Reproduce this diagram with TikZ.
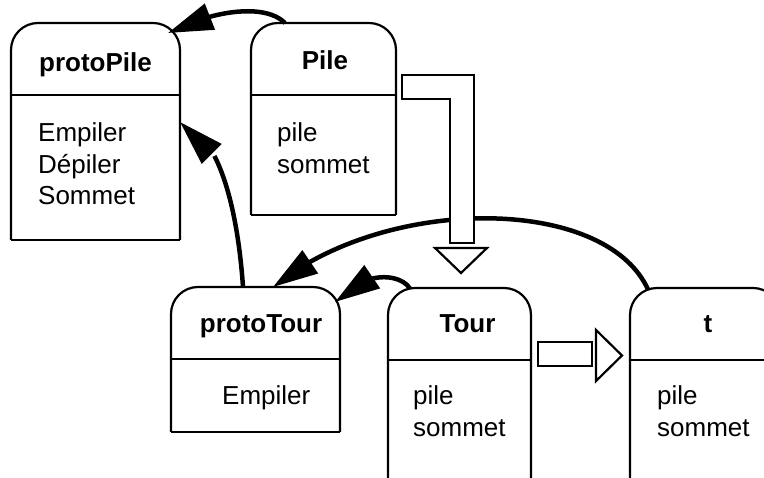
\documentclass[tikz,border=0pt]{standalone}
\usepackage{fontspec}
\setmainfont{Liberation Sans}
\usetikzlibrary{arrows.meta,bending}

\newcommand\boxlines[1]{\begin{tabular}[t]{@{}l@{}}#1\end{tabular}}

\tikzset{
  boxarea/.style={inner sep=0pt, outer sep=0pt, anchor=north west, draw=none},
  boxline/.style={line width=2.2pt, line join=miter},
  title/.style={font=\fontsize{26}{31.5}\selectfont\bfseries, anchor=base, inner sep=0pt},
  body/.style={font=\fontsize{26}{31.5}\selectfont, anchor=base west, inner sep=0pt},
  link/.style={line width=4.5pt, -{Triangle[length=45pt,width=27pt,flex]}},
  hollow/.style={line width=2.2pt, fill=white, line join=miter},
}

\begin{document}
\begin{tikzpicture}[x=1pt,y=1pt]
\useasboundingbox (0,0) rectangle (764,478);
\clip (0,0) rectangle (764,478);

% object boxes
\node[boxarea, minimum width=169pt, minimum height=217pt] (protoPile) at (11,455) {};
\node[boxarea, minimum width=145pt, minimum height=192pt] (Pile) at (251,455) {};
\node[boxarea, minimum width=169pt, minimum height=145pt] (protoTour) at (171,191) {};
\node[boxarea, minimum width=143pt, minimum height=230pt] (Tour) at (388,190) {};
\node[boxarea, minimum width=150pt, minimum height=230pt] (t) at (630,190) {};

% outlines: rounded top, header divider
\foreach \bx in {protoPile,Pile,protoTour,Tour,t} {
  \draw[boxline, rounded corners=27pt] (\bx.south west) -- (\bx.north west)
        -- (\bx.north east) -- (\bx.south east);
  \draw[boxline] ([yshift=-72pt]\bx.north west) -- ([yshift=-72pt]\bx.north east);
}
\foreach \bx in {protoPile,Pile,protoTour}
  \draw[boxline, line cap=square] (\bx.south west) -- (\bx.south east);

% titles
\node[title] (protoPileTitle) at (95.5,406) {protoPile};
\node[title] (PileTitle) at (325,408) {Pile};
\node[title] (protoTourTitle) at (261,145) {protoTour};
\node[title] (TourTitle) at (467.5,145) {Tour};
\node[title] (tTitle) at (708,145) {t};

% slots
\node[body] (protoPileSlots) at (38,336) {\boxlines{Empiler\\Dépiler\\Sommet}};
\node[body] (PileSlots) at (277,336) {\boxlines{pile\\sommet}};
\node[body] (protoTourSlots) at (222,73) {Empiler};
\node[body] (TourSlots) at (413,73) {\boxlines{pile\\sommet}};
\node[body] (tSlots) at (657,73) {\boxlines{pile\\sommet}};

% prototype links
\draw[link] ([xshift=34pt]Pile.north west) .. controls +(-20,20) and +(45,23)
      .. ([shift={(-12pt,-10pt)}]protoPile.north east);
\draw[link] ([xshift=72pt]protoTour.north west) .. controls +(-5,74) and +(40,-11)
      .. ([yshift=-99pt]protoPile.north east);
\draw[link] ([shift={(18pt,-1.5pt)}]t.north west) .. controls +(-43,94.5) and +(112,92)
      .. ([xshift=102pt]protoTour.north west);
\draw[link] ([shift={(22pt,-0.5pt)}]Tour.north west) .. controls +(-10,15.5) and +(28,32)
      .. ([shift={(-5pt,-15pt)}]protoTour.north east);

% hollow arrows
\draw[hollow] (402,403) -- (474,403) -- (474,235) -- (450,235) -- (450,379) -- (402,379) -- cycle;
\draw[hollow] (435,230) -- (487,230) -- (461,205) -- cycle;
\draw[hollow] (538,136) rectangle (592,112);
\draw[hollow] (596,148) -- (622,122.5) -- (596,97) -- cycle;
\end{tikzpicture}
\end{document}
